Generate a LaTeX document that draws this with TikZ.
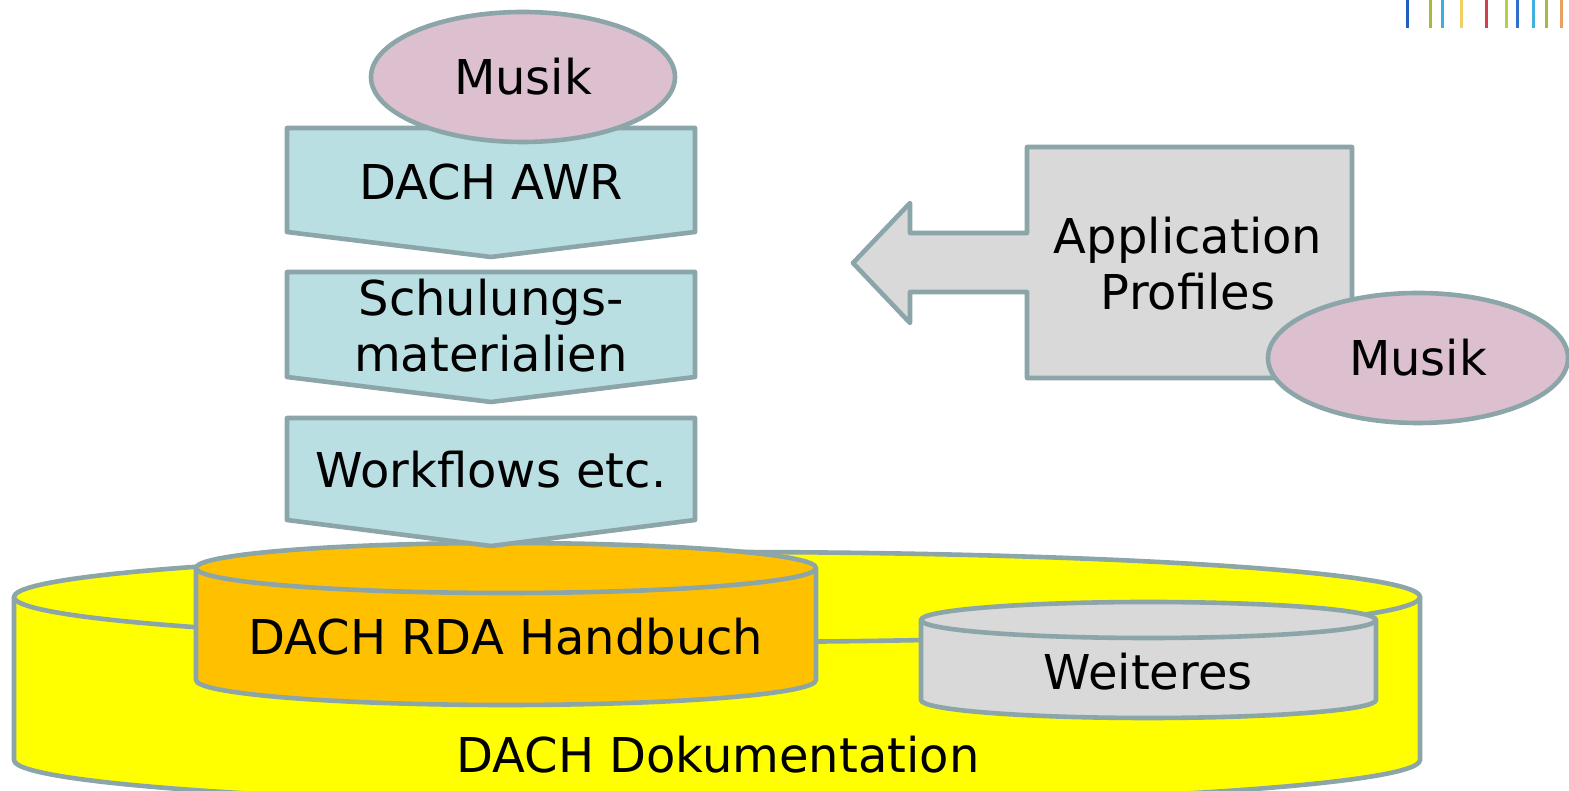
\documentclass[tikz,border=0pt]{standalone}
\usepackage{fontspec}
\setmainfont{DejaVu Sans}
\definecolor{bord}{HTML}{8BA5A8}
\definecolor{bluefill}{HTML}{B9DFE3}
\definecolor{pinkfill}{HTML}{DCC0D0}
\definecolor{greyfill}{HTML}{D9D9D9}
\definecolor{orangefill}{HTML}{FFC000}
\definecolor{yellowfill}{HTML}{FFFF00}
\definecolor{b1}{HTML}{1F5FBF}
\definecolor{b2}{HTML}{A9B93A}
\definecolor{b3}{HTML}{3AB0E0}
\definecolor{b4}{HTML}{F0D060}
\definecolor{b5}{HTML}{D04050}
\definecolor{b6}{HTML}{B8D040}
\definecolor{b7}{HTML}{3070C8}
\definecolor{b8}{HTML}{40B0E0}
\definecolor{b9}{HTML}{A8B840}
\definecolor{b10}{HTML}{E8A060}
\begin{document}
\begin{tikzpicture}[x=1pt,y=1pt,
  shapeline/.style={draw=bord,line width=4.6pt,line join=round},
  lbl/.style={inner sep=0pt,align=center,font=\fontsize{48}{56}\selectfont},
  bar/.style={line width=3pt}]
\useasboundingbox (0,0) rectangle (1569,791);
\clip (0,0) rectangle (1569,791);
% top-right bars
\foreach \x/\c in {1407/b1,1430/b2,1442/b3,1461/b4,1486/b5,1506/b6,1517/b7,1533/b8,1546/b9,1561/b10}
  \draw[bar,\c] (\x,791) -- (\x,763);
% yellow cylinder
\path[shapeline,fill=yellowfill] (14,194) -- (14,31) arc[start angle=180,end angle=360,x radius=703,y radius=45] -- (1420,194) -- cycle;
\path[shapeline,fill=yellowfill] (717,194) ellipse[x radius=703,y radius=45];
\node[lbl] (dok) at (718,36) {DACH Dokumentation};
% orange cylinder
\path[shapeline,fill=orangefill] (196,223) -- (196,111) arc[start angle=180,end angle=360,x radius=310,y radius=25] -- (816,223) -- cycle;
\path[shapeline,fill=orangefill] (506,223) ellipse[x radius=310,y radius=25];
\node[lbl] (rda) at (506,154) {DACH RDA Handbuch};
% grey cylinder
\path[shapeline,fill=greyfill] (921,171) -- (921,91) arc[start angle=180,end angle=360,x radius=227.5,y radius=18] -- (1376,171) -- cycle;
\path[shapeline,fill=greyfill] (1148.5,171) ellipse[x radius=227.5,y radius=18];
\node[lbl] (weit) at (1148,119) {Weiteres};
% blue chevrons
\path[shapeline,fill=bluefill] (287,663) -- (695,663) -- (695,559) -- (491,534) -- (287,559) -- cycle;
\node[lbl] (awr) at (491,609) {DACH AWR};
\path[shapeline,fill=bluefill] (287,519) -- (695,519) -- (695,414) -- (491,389) -- (287,414) -- cycle;
\node[lbl] (schul) at (491,465) {Schulungs-\\materialien};
\path[shapeline,fill=bluefill] (287,373) -- (695,373) -- (695,271) -- (491,245) -- (287,271) -- cycle;
\node[lbl] (work) at (491,321) {Workflows etc.};
% Musik top
\path[shapeline,fill=pinkfill] (523,714) ellipse[x radius=152,y radius=65];
\node[lbl] (musik1) at (523,714) {Musik};
% Application profiles arrow
\path[shapeline,fill=greyfill] (1352,644) -- (1027,644) -- (1027,558) -- (910,558) -- (910,588) -- (853,528) -- (910,468) -- (910,499) -- (1027,499) -- (1027,413) -- (1352,413) -- cycle;
\node[lbl] (ap) at (1188,527) {Application\\Profiles};
% Musik right
\path[shapeline,fill=pinkfill] (1418,433) ellipse[x radius=150,y radius=65];
\node[lbl] (musik2) at (1418,433) {Musik};
\end{tikzpicture}
\end{document}
